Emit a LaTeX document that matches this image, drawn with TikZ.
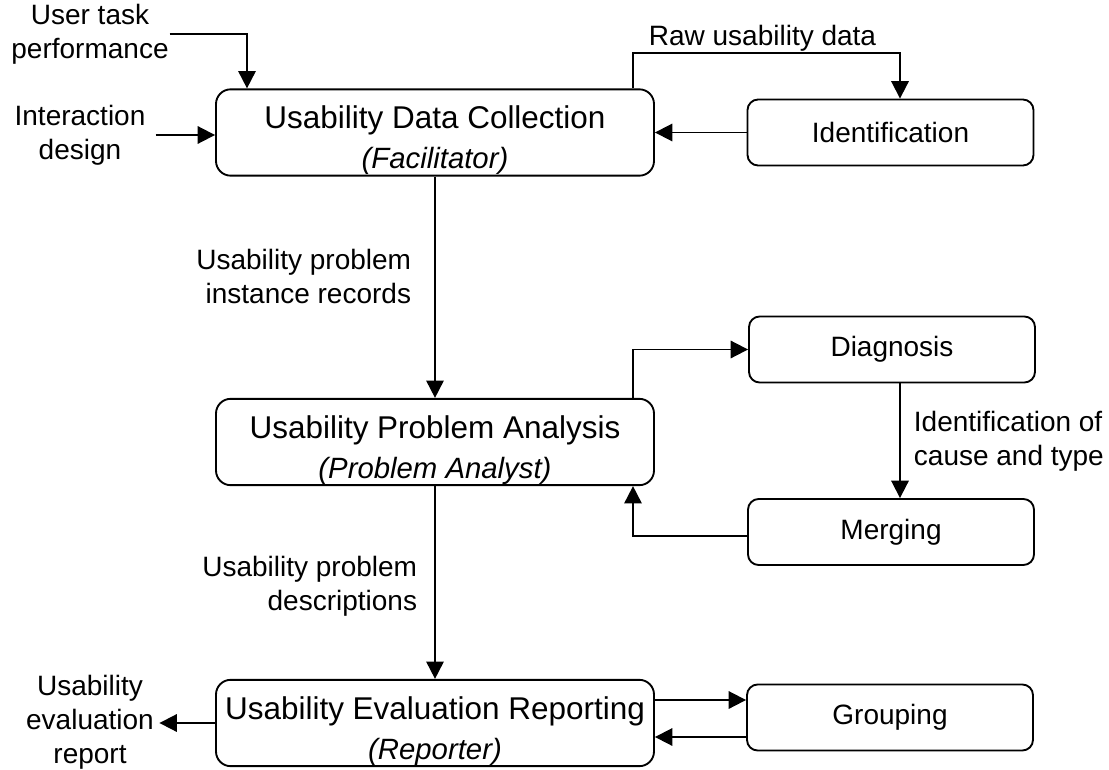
\documentclass[tikz,border=0pt]{standalone}
\usepackage{fontspec}
\setmainfont{Liberation Sans}
\usetikzlibrary{arrows.meta,calc}
\begin{document}
\begin{tikzpicture}[x=0.75pt,y=-0.75pt,
  line width=1.4pt,
  arr/.style={-{Triangle[length=13pt,width=13pt]}},
  mainbox/.style={draw,rounded corners=11pt,minimum width=328.5pt,minimum height=64.75pt,inner sep=0pt},
  maintext/.style={align=center,inner sep=0pt,font=\fontsize{23.6}{30}\selectfont},
  smallbox/.style={draw,rounded corners=8pt,minimum width=214.5pt,minimum height=49.5pt,inner sep=0pt,
    font=\fontsize{21}{25.5}\selectfont},
  lbl/.style={inner sep=0pt,font=\fontsize{21}{25.5}\selectfont}]
\useasboundingbox[fill=white] (0,0) rectangle (1109,770);

% main boxes
\node[mainbox] (b1) at (435,132.5) {};
\node[mainbox] (b2) at (435,442) {};
\node[mainbox] (b3) at (435,723) {};
\node[maintext] (b1t) at ([yshift=-6pt]b1.center) {Usability Data Collection\\{\fontsize{22}{30}\selectfont\itshape (Facilitator)}};
\node[maintext] (b2t) at ([yshift=-6pt]b2.center) {Usability Problem Analysis\\{\fontsize{22}{30}\selectfont\itshape (Problem Analyst)}};
\node[maintext] (b3t) at ([yshift=-6pt]b3.center) {Usability Evaluation Reporting\\{\fontsize{22}{30}\selectfont\itshape (Reporter)}};

% side boxes
\node[smallbox] (idn) at (890.5,132.5) {Identification};
\node[smallbox] (dia) at (892,349.5) {Diagnosis};
\node[smallbox] (mer) at (891,532) {Merging};
\node[smallbox] (grp) at (890,717.5) {Grouping};

% free labels
\node[lbl,align=center] (utp) at (90,34) {User task\\performance};
\node[lbl,align=center,inner xsep=7pt] (ida) at (80,135) {Interaction\\design};
\node[lbl,align=center,inner xsep=3.5pt] (uer) at (90,722) {Usability\\evaluation\\report};
\node[lbl] (raw) at (762.5,38) {Raw usability data};
\node[lbl,align=right,anchor=east] (pir) at (412,276) {Usability problem\\instance records};
\node[lbl,align=right,anchor=east] (pd) at (418,586) {Usability problem\\descriptions};
\node[lbl,align=left,anchor=west] (ict) at (913,441) {Identification of\\cause and type};

% helper coordinates
\coordinate (xu) at (247,0);
\coordinate (xl) at (633,53);
\coordinate (xr) at (900,0);

% connectors
\draw[arr] (utp.east) -| (b1.north -| xu);
\draw[arr] (ida.east) -- (ida.east -| b1.west);
\draw[arr] (b1.north -| xl) -- (xl) -| (idn.north -| xr);
\draw[arr] (idn.west) -- (b1.east);
\draw[arr] (b1.south) -- (b2.north);
\draw[arr] (b2.north -| xl) |- (dia.west);
\draw[arr] (dia.south -| xr) -- (mer.north -| xr);
\draw[arr] ([yshift=-3pt]mer.west) -| (b2.south -| xl);
\draw[arr] (b2.south) -- (b3.north);
\draw[arr] ([yshift=17.25pt]b3.east) -- ([yshift=17.25pt]b3.east -| grp.west);
\draw[arr] ([yshift=-10.5pt]b3.east -| grp.west) -- ([yshift=-10.5pt]b3.east);
\draw[arr] (b3.west) -- (b3.west -| uer.east);
\end{tikzpicture}
\end{document}
